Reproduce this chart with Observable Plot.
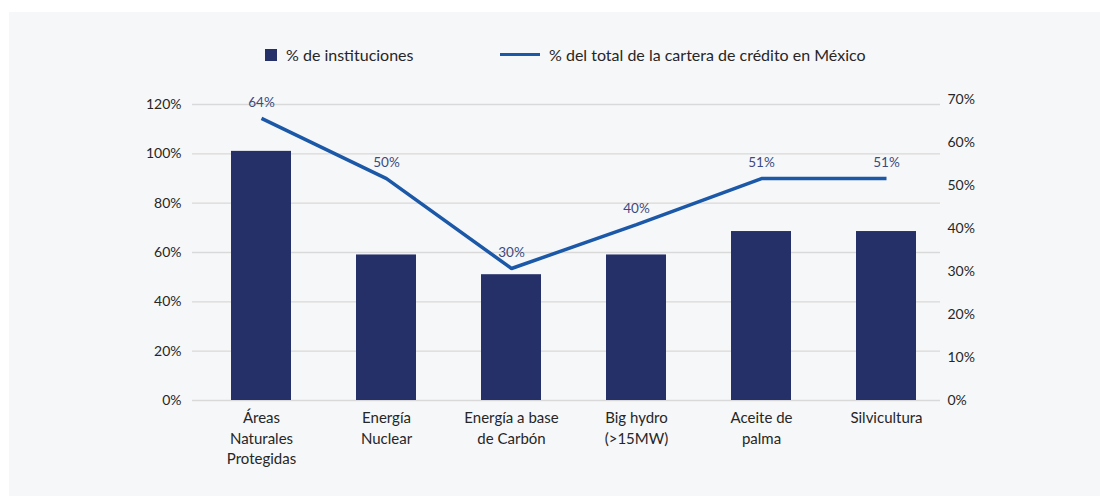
<!DOCTYPE html>
<html>
<head>
<meta charset="utf-8">
<script src="https://cdn.jsdelivr.net/npm/d3@7"></script>
<script src="https://cdn.jsdelivr.net/npm/@observablehq/plot@0.6"></script>
<style>
  body { margin: 0; background: #ffffff; font-family: Lato, "Noto Sans", sans-serif; }
  #wrap { position: absolute; left: 9px; top: 12px; width: 1091px; height: 484px; background: #f6f7f9; overflow: hidden; }
  .leg { position: absolute; top: 33px; display: flex; align-items: center; font-size: 16px; color: #262626; white-space: nowrap; }
  .sw { width: 12px; height: 12px; background: #253069; margin-right: 9px; }
  .ln { width: 40px; height: 3.5px; background: #1b58a7; margin-right: 9px; }
  #chart { position: absolute; left: 0; top: 68px; }
</style>
</head>
<body>
<div id="wrap">
  <div class="leg" style="left:256px"><div class="sw"></div><span>% de instituciones</span></div>
  <div class="leg" style="left:491px"><div class="ln"></div><span>% del total de la cartera de crédito en México</span></div>
  <div id="chart"></div>
</div>
<script>
// Categories and tick labels
const categories = ["Áreas Naturales Protegidas", "Energía Nuclear", "Energía a base de Carbón", "Big hydro (>15MW)", "Aceite de palma", "Silvicultura"];
const tickLabels = ["Áreas\nNaturales\nProtegidas", "Energía\nNuclear", "Energía a base\nde Carbón", "Big hydro\n(>15MW)", "Aceite de\npalma", "Silvicultura"];
// Series 1: % de instituciones (left axis, %)
const instituciones = [101, 59, 51, 59, 68.5, 68.5];
// Series 2: % del total de la cartera de crédito en México (right axis, %)
const cartera = [65.6, 51.6, 30.7, 40.9, 51.6, 51.6];
const carteraLabels = ["64%", "50%", "30%", "40%", "51%", "51%"];
// Axis ticks
const leftTicks = [0, 20, 40, 60, 80, 100, 120];
const rightTicks = [0, 10, 20, 30, 40, 50, 60, 70];

// right-axis units expressed in left-axis units
const k = 1.7433;

const bars = categories.map((c, i) => ({cat: c, v: instituciones[i]}));
const line = categories.map((c, i) => ({cat: c, v: cartera[i] * k, label: carteraLabels[i]}));
const labelOf = new Map(categories.map((c, i) => [c, tickLabels[i]]));

const chart = Plot.plot({
  width: 1091,
  height: 416,
  marginLeft: 188,
  marginRight: 151,
  marginTop: 24,
  marginBottom: 96,
  style: {background: "transparent", fontFamily: "Lato, 'Noto Sans', sans-serif", color: "#262626"},
  x: {type: "band", domain: categories, paddingInner: 0.52, paddingOuter: 0.26, label: null},
  y: {domain: [0, 120], label: null},
  marks: [
    Plot.ruleY(leftTicks, {stroke: "#d9d9d9", strokeWidth: 1.3, insetLeft: -5, insetRight: 9}),
    Plot.barY(bars, {x: "cat", y: "v", fill: "#253069"}),
    Plot.lineY(line, {x: "cat", y: "v", stroke: "#1b58a7", strokeWidth: 3.5, strokeLinejoin: "miter", strokeLinecap: "butt"}),
    Plot.text(line, {x: "cat", y: "v", text: "label", dy: -16, fill: "#3b4a80", fontSize: 13.5}),
    Plot.axisY({anchor: "left", ticks: leftTicks, tickFormat: d => d + "%", tickSize: 0, tickPadding: 16, fontSize: 14, label: null}),
    Plot.axisY({anchor: "right", ticks: rightTicks.map(v => v * k), tickFormat: d => Math.round(d / k) + "%", tickSize: 0, tickPadding: -2, fontSize: 14, label: null}),
    Plot.axisX({tickFormat: d => labelOf.get(d), tickSize: 0, tickPadding: 8, fontSize: 15, lineHeight: 1.37, label: null})
  ]
});
document.getElementById("chart").appendChild(chart);
</script>
</body>
</html>
